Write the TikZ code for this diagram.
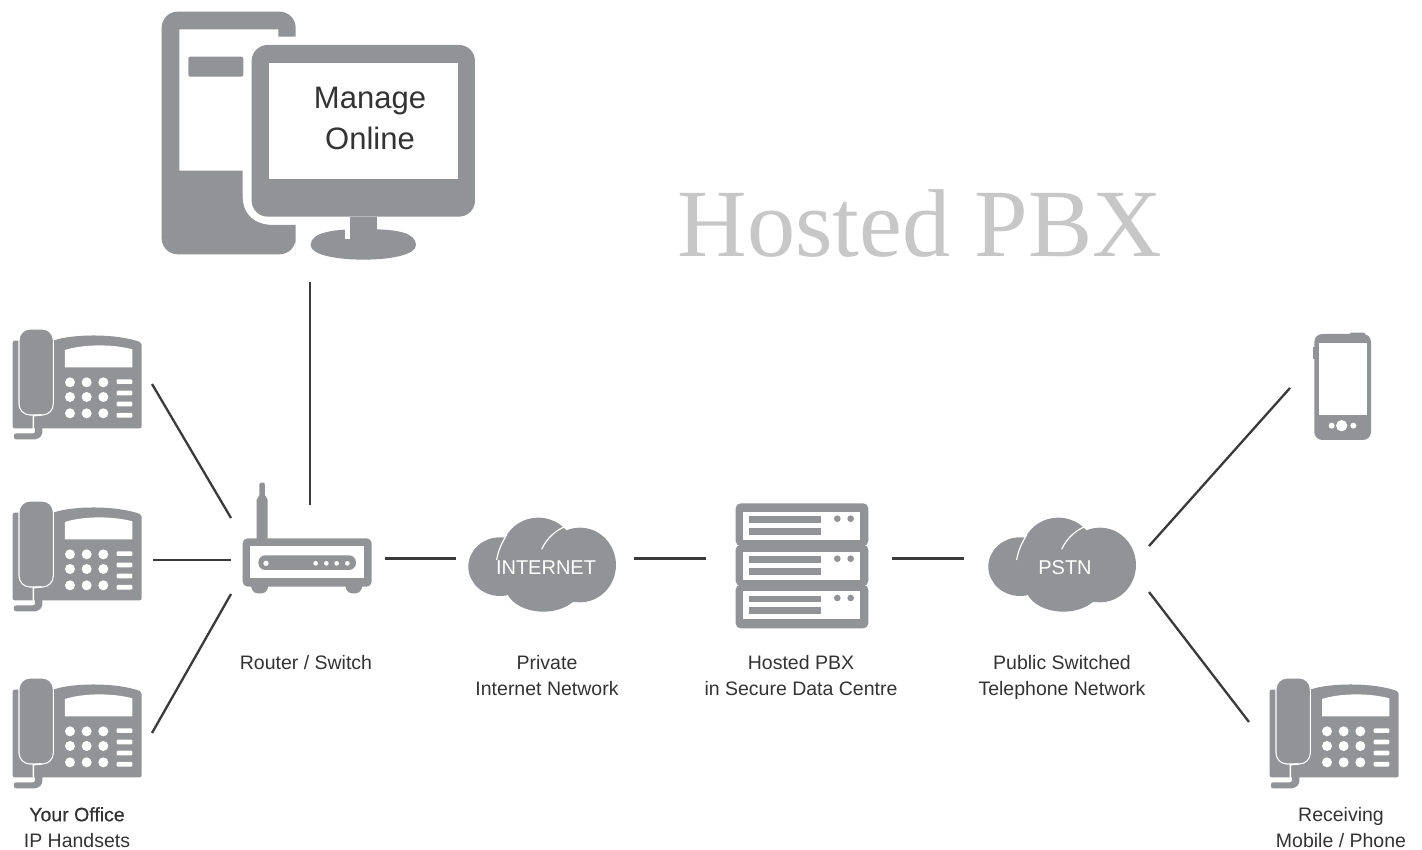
\documentclass[tikz,border=0pt]{standalone}
\usepackage{fontspec}
\setmainfont{Liberation Sans}
\newfontfamily\serifhead{Liberation Serif}
\definecolor{icon}{HTML}{929396}
\definecolor{ink}{HTML}{333333}
\definecolor{wire}{HTML}{3A3A3A}
\tikzset{
  wirelink/.style={draw=wire,line width=2.3pt},
  lbl/.style={text=ink,font=\fontsize{19.5}{24}\selectfont,align=center,inner sep=0pt,anchor=base},
  screentxt/.style={text=ink,font=\fontsize{31}{38}\selectfont,inner sep=0pt,anchor=base},
  cloudtxt/.style={text=white,font=\fontsize{20}{24}\selectfont,inner sep=0pt,anchor=base},
  zoomgrid/.style={x=0.3333pt,y=-0.3333pt},
  deskphone/.pic={
    \begin{scope}[zoomgrid]
      \fill[icon,rounded corners=2pt] (38,325) -- (38,62) -- (160,62) .. controls (220,42) and (350,40) .. (425,68) -- (425,325) -- cycle;
      \fill[white] (195,90) .. controls (250,72) and (340,72) .. (397,88) -- (397,142) -- (195,142) -- cycle;
      \foreach \yy in {187,231,280}{\foreach \xx in {210,260,310}{\fill[white] (\xx,\yy) circle[radius=15];}}
      \foreach \yy in {185,219,252,286}{\fill[white,rounded corners=1pt] (350,\yy-7) rectangle (397,\yy+7);}
      \draw[white,line width=1.1pt,fill=icon,rounded corners=11pt] (57,285) -- (57,27) -- (160,27) -- (160,285) -- cycle;
      \draw[white,line width=1.5pt] (125,285) -- (100,287) -- (100,330) -- (38,330);
      \fill[white] (38,328) rectangle (125,340);
      \fill[icon,rounded corners=2pt] (42,340) -- (105,340) -- (105,292) -- (127,292) -- (127,345) -- (112,358) -- (42,358) -- cycle;
    \end{scope}
  },
  cloudicon/.pic={
    \begin{scope}[zoomgrid]
      \fill[icon] (810,290) ellipse[x radius=95,y radius=88];
      \fill[icon] (925,250) ellipse[x radius=110,y radius=107];
      \fill[icon] (1050,285) ellipse[x radius=108,y radius=112];
      \fill[icon] (940,345) ellipse[x radius=115,y radius=80];
      \draw[white,line width=1.2pt] (800,270) .. controls (805,240) and (815,220) .. (830,195);
      \draw[white,line width=1.2pt] (935,238) .. controls (950,205) and (980,175) .. (1020,165);
    \end{scope}
  },
  rackunit/.pic={
    \begin{scope}[zoomgrid]
      \fill[white] (70,0) rectangle (420,84);
      \fill[icon] (87,14) rectangle (303,33);
      \fill[icon] (87,49) rectangle (303,69);
      \fill[icon] (352,21) circle[radius=10];
      \fill[icon] (392,21) circle[radius=10];
    \end{scope}
  }
}
\begin{document}
\begin{tikzpicture}[x=1pt,y=-1pt]
\useasboundingbox (0,0) rectangle (1422,850);
\fill[white] (0,0) rectangle (1422,850);

% tower + monitor
\begin{scope}[shift={(150,0)},zoomgrid]
  \fill[icon] (437,110) [rounded corners=16pt] -- (437,35) -- (35,35) -- (35,763) -- (437,763) -- (437,720) [sharp corners] -- (437,675) -- (370,675) .. controls (310,675) and (278,640) .. (278,590) -- (278,512) -- (88,512) -- (88,88) -- (385,88) -- (385,110) -- cycle;
  \fill[icon,rounded corners=2pt] (280,170) -- (115,170) -- (115,230) -- (280,230) -- cycle;
  \fill[icon,rounded corners=16pt] (305,135) rectangle (975,650);
  \fill[white] (358,188) rectangle (925,538);
  \fill[icon] (600,650) rectangle (680,700);
  \fill[icon] (482,735) .. controls (482,695) and (560,690) .. (600,688) -- (680,688) .. controls (730,690) and (798,695) .. (798,735) .. controls (798,765) and (720,779) .. (640,779) .. controls (560,779) and (482,765) .. (482,735) -- cycle;
  \fill[white] (585,688) rectangle (600,716);
\end{scope}
\node[screentxt] (manage) at (370,109) {Manage};
\node[screentxt] (online) at (370,150) {Online};

\node[text=black!22,font=\serifhead\fontsize{96.4}{100}\selectfont,inner sep=0pt] (title) at (920,224) {Hosted PBX};

% desk phones
\pic at (0,320) {deskphone};
\pic at (0,492) {deskphone};
\pic at (0,669) {deskphone};
\pic at (1257,669) {deskphone};

% mobile
\begin{scope}[shift={(1290,320)},zoomgrid]
  \fill[icon,rounded corners=1pt] (180,38) rectangle (225,48);
  \fill[icon] (68,80) rectangle (76,118);
  \fill[icon,rounded corners=8pt] (73,42) rectangle (243,360);
  \fill[white] (88,70) rectangle (230,285);
  \fill[white] (125,317) circle[radius=9];
  \fill[white] (155,317) circle[radius=17];
  \fill[white] (190,317) circle[radius=9];
\end{scope}

% router
\begin{scope}[shift={(230,470)},zoomgrid]
  \fill[icon,rounded corners=1.5pt] (80,210) -- (80,85) -- (88,80) -- (88,38) -- (105,38) -- (105,80) -- (113,85) -- (113,210) -- cycle;
  \fill[icon,rounded corners=5pt] (38,205) rectangle (425,350);
  \fill[icon,rounded corners=4pt] (60,340) -- (118,340) -- (108,370) -- (70,370) -- cycle;
  \fill[icon,rounded corners=4pt] (343,340) -- (400,340) -- (390,370) -- (353,370) -- cycle;
  \fill[white] (60,228) rectangle (403,325);
  \fill[icon,rounded corners=7pt] (85,256) rectangle (378,300);
  \fill[white] (108,280) circle[radius=8];
  \foreach \xx in {257,289,320,352}{\fill[white] (\xx,280) circle[radius=7];}
\end{scope}

% clouds
\pic at (230,470) {cloudicon};
\pic at (750,470) {cloudicon};
\node[cloudtxt] (inet) at (546,574) {INTERNET};
\node[cloudtxt] (pstn) at (1065,574) {PSTN};

% server
\begin{scope}[shift={(720,490)},zoomgrid]
  \fill[icon,rounded corners=5pt] (47,40) rectangle (445,168);
  \fill[icon,rounded corners=5pt] (47,164) rectangle (445,288);
  \fill[icon,rounded corners=5pt] (47,284) rectangle (445,415);
\end{scope}
\pic at (720,511.7) {rackunit};
\pic at (720,551.7) {rackunit};
\pic at (720,591) {rackunit};

% connector ends
\coordinate (p1) at (152,384);  \coordinate (r1) at (231,518);
\coordinate (p2) at (153,560);  \coordinate (r2) at (231,560);
\coordinate (p3) at (152,733);  \coordinate (r3) at (231,594);
\coordinate (pc) at (310,282);  \coordinate (rt) at (310,505);
\coordinate (rr) at (385,558.5); \coordinate (il) at (456,558.5);
\coordinate (ir) at (634,558.5); \coordinate (sl) at (706,558.5);
\coordinate (sr) at (892,558.5); \coordinate (tl) at (964,558.5);
\coordinate (tu) at (1149,546);  \coordinate (mob) at (1290,388);
\coordinate (td) at (1149,592);  \coordinate (ph) at (1249,722);
\foreach \aa/\bb in {p1/r1,p2/r2,p3/r3,pc/rt,rr/il,ir/sl,sr/tl,tu/mob,td/ph}{\draw[wirelink] (\aa) -- (\bb);}

% labels
\node[lbl] (lrouter) at (306,669.3) {Router / Switch};
\node[lbl] (lnet1) at (547,669.3) {Private};
\node[lbl] (lnet2) at (547,695) {Internet Network};
\node[lbl] (lpbx1) at (801,669.3) {Hosted PBX};
\node[lbl] (lpbx2) at (801,695) {in Secure Data Centre};
\node[lbl] (lpstn1) at (1062,669.3) {Public Switched};
\node[lbl] (lpstn2) at (1062,695) {Telephone Network};
\node[lbl] (loff1) at (77,821.3) {\addfontfeature{FakeBold=0.4}Your Office};
\node[lbl] (loff2) at (77,847) {IP Handsets};
\node[lbl] (lrec1) at (1341,821.3) {Receiving};
\node[lbl] (lrec2) at (1341,847) {Mobile / Phone};
\end{tikzpicture}
\end{document}
